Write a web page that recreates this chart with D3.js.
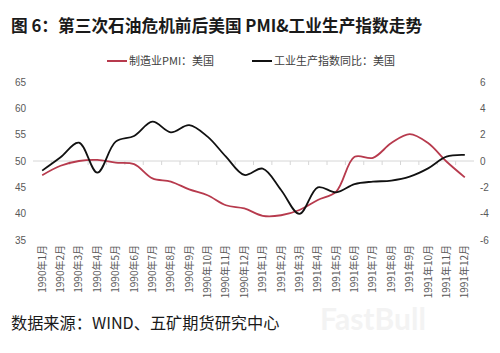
<!DOCTYPE html>
<html>
<head>
<meta charset="utf-8">
<script src="https://cdn.jsdelivr.net/npm/d3@7"></script>
<style>
  body { margin: 0; background: #fff; }
  svg { display: block; font-family: "Noto Sans CJK SC", "Liberation Sans", sans-serif; }
</style>
</head>
<body>
<div id="chart"></div>
<script>
const months = [
  "1990年1月", "1990年2月", "1990年3月", "1990年4月", "1990年5月", "1990年6月",
  "1990年7月", "1990年8月", "1990年9月", "1990年10月", "1990年11月", "1990年12月",
  "1991年1月", "1991年2月", "1991年3月", "1991年4月", "1991年5月", "1991年6月",
  "1991年7月", "1991年8月", "1991年9月", "1991年10月", "1991年11月", "1991年12月"
];
// 制造业PMI：美国 (left axis)
const pmi = [47.3, 49.1, 50.0, 50.2, 49.7, 49.4, 46.7, 46.1, 44.6, 43.5, 41.6, 41.0,
             39.6, 39.7, 40.7, 42.6, 44.2, 50.8, 50.6, 53.4, 55.1, 53.4, 49.9, 46.9];
// 工业生产指数同比：美国 (right axis)
const ipYoy = [-0.73, 0.28, 1.39, -0.89, 1.47, 1.9, 2.99, 2.18, 2.73, 1.85, 0.33, -1.06,
               -0.58, -2.2, -4.02, -2.0, -2.38, -1.75, -1.57, -1.49, -1.19, -0.56, 0.33, 0.46];
const leftTicks = [35, 40, 45, 50, 55, 60, 65];
const rightTicks = [-6, -4, -2, 0, 2, 4, 6];

const W = 500, H = 353;
const svg = d3.select("#chart").append("svg")
  .attr("width", W)
  .attr("height", H);

svg.append("text")
  .attr("x", 11)
  .attr("y", 32)
  .attr("font-size", 16.7)
  .attr("font-weight", "bold")
  .attr("fill", "#1a1a1a")
  .text("图 6：第三次石油危机前后美国 PMI&工业生产指数走势");

const x = d3.scaleBand().domain(months).range([33, 474]);
const yL = d3.scaleLinear().domain([35, 65]).range([240, 82]);
const yR = d3.scaleLinear().domain([-6, 6]).range([240, 82]);
const cx = d => x(d) + x.bandwidth() / 2;

// category axis line sits at 50 / 0
const axisY = yR(0);
svg.append("line")
  .attr("x1", 33).attr("x2", 474)
  .attr("y1", axisY).attr("y2", axisY)
  .attr("stroke", "#d6d6d6");

svg.append("g")
  .selectAll("line")
  .data(months.slice(1))
  .join("line")
    .attr("x1", d => x(d)).attr("x2", d => x(d))
    .attr("y1", axisY).attr("y2", axisY + 4)
    .attr("stroke", "#d6d6d6");

svg.append("g")
  .selectAll("text")
  .data(leftTicks)
  .join("text")
    .attr("x", 26)
    .attr("y", d => yL(d))
    .attr("dy", "0.35em")
    .attr("text-anchor", "end")
    .attr("font-size", 10)
    .attr("font-family", "Liberation Sans, sans-serif")
    .attr("fill", "#595959")
    .text(d => d);

svg.append("g")
  .selectAll("text")
  .data(rightTicks)
  .join("text")
    .attr("x", 480)
    .attr("y", d => yR(d))
    .attr("dy", "0.35em")
    .attr("font-size", 10)
    .attr("font-family", "Liberation Sans, sans-serif")
    .attr("fill", "#595959")
    .text(d => d);

svg.append("g")
  .selectAll("text")
  .data(months)
  .join("text")
    .attr("transform", d => `translate(${cx(d) + 3.5},245) rotate(-90)`)
    .attr("text-anchor", "end")
    .attr("font-size", 10)
    .attr("fill", "#595959")
    .text(d => d);

const curve = d3.curveCatmullRom.alpha(0.5);

svg.append("path")
  .datum(pmi)
  .attr("fill", "none")
  .attr("stroke", "#b73a4d")
  .attr("stroke-width", 1.8)
  .attr("d", d3.line().x((d, i) => cx(months[i])).y(d => yL(d)).curve(curve));

svg.append("path")
  .datum(ipYoy)
  .attr("fill", "none")
  .attr("stroke", "#111")
  .attr("stroke-width", 1.8)
  .attr("d", d3.line().x((d, i) => cx(months[i])).y(d => yR(d)).curve(curve));

// legend
const legend = [
  { label: "制造业PMI：美国", color: "#b73a4d", x: 107 },
  { label: "工业生产指数同比：美国", color: "#111", x: 252 }
];
const lg = svg.append("g")
  .selectAll("g")
  .data(legend)
  .join("g")
    .attr("transform", d => `translate(${d.x},61)`);
lg.append("line")
  .attr("x2", 20)
  .attr("stroke", d => d.color)
  .attr("stroke-width", 2);
lg.append("text")
  .attr("x", 22)
  .attr("dy", "0.35em")
  .attr("font-size", 11)
  .attr("fill", "#404040")
  .text(d => d.label);

// watermark
svg.append("text")
  .attr("x", 320)
  .attr("y", 330)
  .attr("font-size", 30)
  .attr("font-weight", "bold")
  .attr("font-family", "Lato, sans-serif")
  .attr("fill", "#f3f3f3")
  .text("FastBull");

svg.append("text")
  .attr("x", 11)
  .attr("y", 329)
  .attr("font-size", 16.2)
  .attr("fill", "#1a1a1a")
  .text("数据来源：WIND、五矿期货研究中心");
</script>
</body>
</html>
